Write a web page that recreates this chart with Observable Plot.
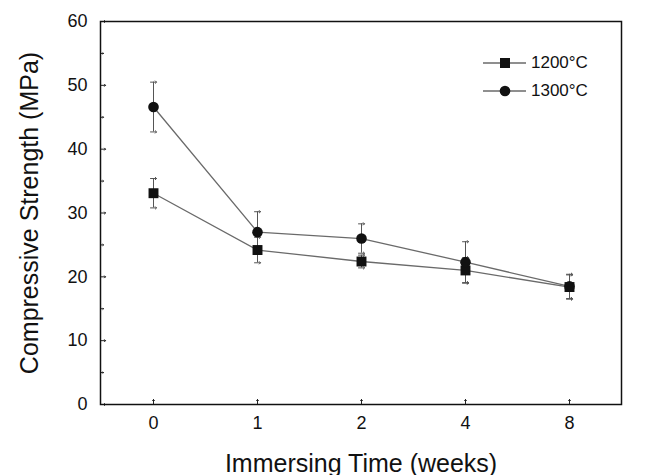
<!DOCTYPE html>
<html>
<head>
<meta charset="utf-8">
<script src="https://cdn.jsdelivr.net/npm/d3@7"></script>
<script src="https://cdn.jsdelivr.net/npm/@observablehq/plot@0.6"></script>
<style>
  html, body { margin: 0; padding: 0; background: #fff; }
  #wrap { position: relative; width: 663px; height: 475px; overflow: hidden; font-family: "Liberation Sans", Arial, sans-serif; }
  #wrap svg { font-family: "Liberation Sans", Arial, sans-serif; }
  g[aria-label="y-axis label"] text, g[aria-label="x-axis label"] text { font-size: 25px; fill: #111; }
  #legend { position: absolute; left: 482px; top: 49px; font-size: 17px; color: #111; }
  #legend .row { display: flex; align-items: center; height: 28px; }
  #legend svg { width: 46px; height: 28px; }
  #legend span { margin-left: 3px; }
</style>
</head>
<body>
<div id="wrap"></div>
<script>
const weeks = ["0", "1", "2", "4", "8"];
const series = ["1200°C", "1300°C"];
const strength1200 = [33.1, 24.2, 22.4, 21.0, 18.4];
const error1200 = [2.3, 2.0, 1.0, 2.0, 1.9];
const strength1300 = [46.6, 27.0, 26.0, 22.3, 18.5];
const error1300 = [3.9, 3.2, 2.3, 3.2, 1.9];
const yMajorTicks = [0, 10, 20, 30, 40, 50, 60];
const yMinorTicks = [5, 15, 25, 35, 45, 55];

const rows = [];
weeks.forEach((w, i) => {
  rows.push({week: w, series: series[0], value: strength1200[i], err: error1200[i]});
  rows.push({week: w, series: series[1], value: strength1300[i], err: error1300[i]});
});

const lineColor = "#6a6a6a";
const errColor = "#555";

const chart = Plot.plot({
  width: 663,
  height: 475,
  marginTop: 21,
  marginRight: 42,
  marginBottom: 71,
  marginLeft: 100,
  style: {fontFamily: "Liberation Sans, Arial, sans-serif", color: "#111", background: "#fff"},
  x: {type: "point", domain: weeks, padding: 0.5},
  y: {domain: [0, 60]},
  marks: [
    Plot.axisY({ticks: yMajorTicks, tickSize: 0, tickPadding: 13, fontSize: 18,
      label: "Compressive Strength (MPa)", labelAnchor: "center", labelOffset: 80, labelArrow: "none"}),
    Plot.axisX({tickSize: 0, tickPadding: 12, fontSize: 18,
      label: "Immersing Time (weeks)", labelAnchor: "center", labelOffset: 67, labelArrow: "none"}),
    // inward ticks
    Plot.vector(yMajorTicks, {y: d => d, frameAnchor: "left", rotate: 90, length: 5, anchor: "start", stroke: "#222", strokeWidth: 1}),
    Plot.vector(yMinorTicks, {y: d => d, frameAnchor: "left", rotate: 90, length: 3, anchor: "start", stroke: "#222", strokeWidth: 1}),
    Plot.vector(weeks, {x: d => d, frameAnchor: "bottom", rotate: 0, length: 5, anchor: "start", stroke: "#222", strokeWidth: 1}),
    // error bars
    Plot.ruleX(rows, {x: "week", y1: d => d.value - d.err, y2: d => d.value + d.err, stroke: errColor, strokeWidth: 1}),
    Plot.vector(rows, {x: "week", y: d => d.value + d.err, rotate: 90, length: 6, anchor: "middle", stroke: errColor, strokeWidth: 1}),
    Plot.vector(rows, {x: "week", y: d => d.value - d.err, rotate: 90, length: 6, anchor: "middle", stroke: errColor, strokeWidth: 1}),
    // lines
    Plot.line(rows, {x: "week", y: "value", z: "series", stroke: lineColor, strokeWidth: 1.3}),
    // markers
    Plot.dot(rows.filter(d => d.series === series[0]), {x: "week", y: "value", symbol: "square", r: 5.6, fill: "#111", stroke: "none"}),
    Plot.dot(rows.filter(d => d.series === series[1]), {x: "week", y: "value", symbol: "circle", r: 5.3, fill: "#111", stroke: "none"}),
    Plot.frame({stroke: "#111", strokeWidth: 1.5})
  ]
});

const wrap = document.getElementById("wrap");
wrap.appendChild(chart);

// legend
const legend = document.createElement("div");
legend.id = "legend";
const symbols = [
  '<rect x="18" y="9" width="10" height="10" fill="#111"/>',
  '<circle cx="23" cy="14" r="5.3" fill="#111"/>'
];
series.forEach((s, i) => {
  const row = document.createElement("div");
  row.className = "row";
  row.innerHTML = `<svg viewBox="0 0 46 28"><line x1="1" x2="44" y1="14" y2="14" stroke="${lineColor}" stroke-width="1.3"/>${symbols[i]}</svg><span>${s}</span>`;
  legend.appendChild(row);
});
wrap.appendChild(legend);
</script>
</body>
</html>
